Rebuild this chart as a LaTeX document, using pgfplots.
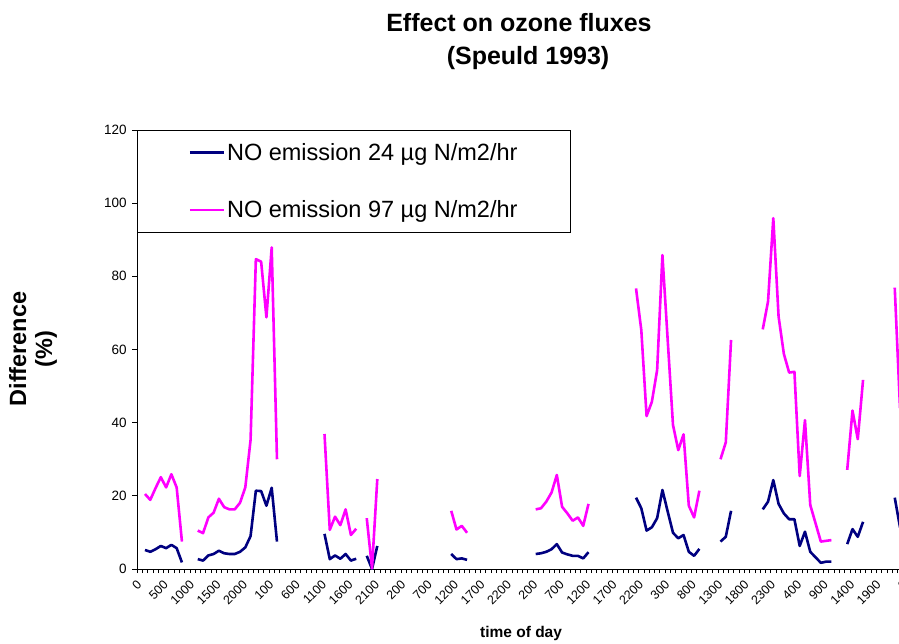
\documentclass[border=0pt]{standalone}
\usepackage{fontspec}
\setmainfont{Liberation Sans}
\usepackage{pgfplots}
\pgfplotsset{compat=1.18}
\definecolor{navyA}{HTML}{000080}
\definecolor{magB}{HTML}{FF00FF}
\pgfplotstableread{
x a b
1 5.2 20.5
2 4.7 18.9
3 5.4 22.1
4 6.3 25.1
5 5.7 22.3
6 6.6 25.9
7 5.7 22.3
8 1.8 7.5
9 nan nan
11 2.7 10.5
12 2.3 9.8
13 3.7 14.1
14 4.1 15.4
15 5.0 19.2
16 4.3 16.9
17 4.1 16.3
18 4.1 16.3
19 4.7 18.1
20 5.9 22.3
21 9.0 35.3
22 21.4 84.7
23 21.3 84.0
24 17.3 68.8
25 22.2 87.9
26 7.5 30.0
27 nan nan
35 9.6 36.9
36 2.7 10.7
37 3.7 14.3
38 2.8 12.0
39 4.1 16.3
40 2.3 9.3
41 2.8 11.0
42 nan nan
43 3.6 13.9
44 0.0 0.2
45 6.3 24.6
46 nan nan
59 4.1 15.9
60 2.7 10.8
61 2.9 11.8
62 2.5 9.9
63 nan nan
75 4.1 16.3
76 4.3 16.6
77 4.7 18.4
78 5.4 20.9
79 6.8 25.7
80 4.5 17.0
81 4.0 15.2
82 3.6 13.2
83 3.6 14.1
84 2.9 11.8
85 4.6 17.8
86 nan nan
94 19.5 76.7
95 16.6 65.3
96 10.5 41.8
97 11.4 45.7
98 13.9 54.4
99 21.6 85.8
100 15.7 62.6
101 9.9 39.4
102 8.4 32.5
103 9.3 36.8
104 4.7 17.3
105 3.6 14.1
106 5.5 21.4
107 nan nan
110 7.5 30.0
111 8.8 34.6
112 15.9 62.6
113 nan nan
118 16.3 65.5
119 18.4 73.1
120 24.3 95.9
121 17.8 69.0
122 15.2 58.8
123 13.6 53.7
124 13.6 53.9
125 6.3 25.4
126 10.2 40.7
127 4.7 17.5
128 3.2 12.5
129 1.7 7.5
130 2.0 7.7
131 2.0 7.9
132 nan nan
134 6.8 27.1
135 10.9 43.3
136 8.8 35.5
137 12.9 51.7
138 nan nan
143 19.5 76.9
144 11.4 44.0
}\datatab
\begin{document}
\begin{tikzpicture}
\useasboundingbox (-137.06pt,-74pt) rectangle (761.94pt,569pt);
\begin{axis}[
  at={(0pt,0pt)}, anchor=south west,
  scale only axis, width=770.88pt, height=439pt,
  xmin=-0.5, xmax=145.5, ymin=0, ymax=120,
  axis x line*=bottom, axis y line*=left,
  axis line style={-, line width=0.8pt, black},
  tick align=outside,
  ytick={0,20,...,120},
  major tick length=5pt,
  y tick style={black, line width=0.8pt},
  xtick={0,5,...,145},
  xticklabels={0,500,1000,1500,2000,100,600,1100,1600,2100,200,700,1200,1700,2200,200,700,1200,1700,2200,300,800,1300,1800,2300,400,900,1400,1900,0},
  major x tick style={draw=none},
  minor xtick={-0.5,0.5,...,145.5},
  minor tick length=4pt,
  minor x tick style={black, line width=0.6pt},
  xticklabel style={rotate=45, anchor=east, font=\fontsize{12.5}{12.5}\selectfont, xshift=-3pt, yshift=-6pt},
  yticklabel style={font=\fontsize{13.5}{13.5}\selectfont, xshift=-2pt},
  /pgf/number format/assume math mode=true,
  unbounded coords=jump,
  legend style={at={(0,1)}, anchor=north west, draw=black, line width=0.8pt,
    font=\fontsize{23.5}{24}\selectfont, inner xsep=51pt, inner ysep=11pt,
    row sep=35pt, nodes={inner sep=2pt}, cells={anchor=west}},
  legend image code/.code={\draw[#1] (0pt,0pt) -- (34pt,0pt);},
]
\addplot[navyA, line width=2.6pt, line join=round] table[x=x, y=a] {\datatab};
\addlegendentry{NO emission 24 µg N/m2/hr}
\addplot[magB, line width=2.6pt, line join=round] table[x=x, y=b] {\datatab};
\addlegendentry{NO emission 97 µg N/m2/hr}
\end{axis}
\node[font=\bfseries\fontsize{25}{25}\selectfont] at (381.9pt,546pt) {Effect on ozone fluxes};
\node[font=\bfseries\fontsize{25}{25}\selectfont] at (391pt,511pt) {(Speuld 1993)};
\node[font=\bfseries\fontsize{23.5}{26}\selectfont, rotate=90, align=center] at (-104pt,220pt) {Difference\\(\%)};
\node[font=\bfseries\fontsize{15.5}{16}\selectfont] at (384pt,-64pt) {time of day};
\end{tikzpicture}
\end{document}
